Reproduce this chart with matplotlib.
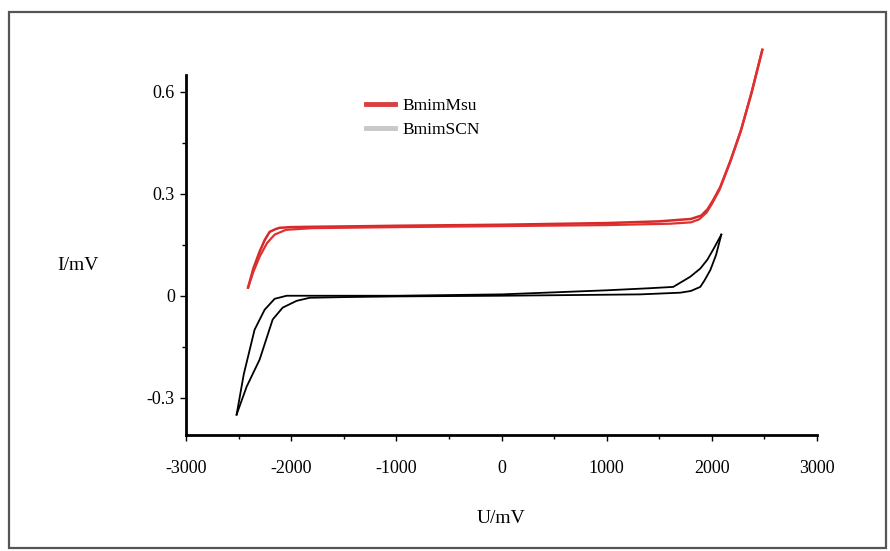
import matplotlib
matplotlib.use("Agg")
import matplotlib.pyplot as plt
from matplotlib.lines import Line2D
from matplotlib.patches import Rectangle
from matplotlib.ticker import MultipleLocator

plt.rcParams['font.family'] = ['Liberation Serif', 'DejaVu Serif']

# BmimMsu (red) - forward sweep then return sweep
msu_u_fwd = [-2410, -2360, -2300, -2250, -2205, -2150, -2110, -2000, -1800, -1500, -1000, 0, 1000, 1500, 1800, 1900, 1960, 2010, 2080, 2180, 2280, 2380, 2480]
msu_i_fwd = [0.024, 0.08, 0.13, 0.165, 0.188, 0.196, 0.200, 0.202, 0.203, 0.204, 0.206, 0.209, 0.214, 0.219, 0.226, 0.236, 0.255, 0.28, 0.32, 0.40, 0.49, 0.60, 0.724]
msu_u_ret = [2480, 2370, 2270, 2170, 2070, 2000, 1950, 1880, 1800, 1600, 1000, 0, -1000, -1800, -2050, -2157, -2230, -2300, -2360, -2410]
msu_i_ret = [0.724, 0.59, 0.48, 0.39, 0.31, 0.27, 0.245, 0.225, 0.216, 0.212, 0.208, 0.205, 0.202, 0.199, 0.194, 0.180, 0.155, 0.115, 0.07, 0.024]

# BmimSCN (black)
scn_u_fwd = [-2519, -2450, -2348, -2252, -2157, -2043, -1500, -1000, 0, 1000, 1400, 1633, 1795, 1890, 1957, 2020, 2090]
scn_i_fwd = [-0.35, -0.23, -0.10, -0.041, -0.009, 0.0, 0.0, 0.0, 0.004, 0.016, 0.022, 0.026, 0.056, 0.08, 0.106, 0.14, 0.18]
scn_u_ret = [2090, 2040, 1986, 1930, 1890, 1800, 1700, 1319, 1000, 0, -1000, -1500, -1824, -1948, -2081, -2176, -2300, -2424, -2519]
scn_i_ret = [0.18, 0.12, 0.076, 0.045, 0.026, 0.014, 0.009, 0.004, 0.003, 0.0, -0.002, -0.004, -0.006, -0.015, -0.035, -0.07, -0.188, -0.268, -0.35]

x_ticks = [-3000, -2000, -1000, 0, 1000, 2000, 3000]
y_ticks = [-0.3, 0, 0.3, 0.6]
y_tick_labels = ["-0.3", "0", "0.3", "0.6"]

fig = plt.figure(figsize=(8.9, 5.51), dpi=100)
ax = fig.add_axes([0.209, 0.2105, 0.709, 0.6535])

fig.patches.append(Rectangle((9/890, 3/551), 877/890, 536/551, transform=fig.transFigure,
                             fill=False, edgecolor="#555555", lw=1.6))

ax.plot(msu_u_fwd, msu_i_fwd, color="#d42a2a", lw=1.8, clip_on=False)
ax.plot(msu_u_ret, msu_i_ret, color="#e03030", lw=1.6, clip_on=False)
ax.plot(scn_u_fwd, scn_i_fwd, color="black", lw=1.3)
ax.plot(scn_u_ret, scn_i_ret, color="black", lw=1.3)

ax.set_xlim(-3000, 3000)
ax.set_ylim(-0.41, 0.65)
ax.set_xticks(x_ticks)
ax.set_xticklabels([str(v) for v in x_ticks])
ax.set_yticks(y_ticks)
ax.set_yticklabels(y_tick_labels)
ax.xaxis.set_minor_locator(MultipleLocator(500))
ax.yaxis.set_minor_locator(MultipleLocator(0.15))
ax.tick_params(which="both", direction="out", labelsize=13, width=1)
ax.tick_params(which="major", length=4)
ax.tick_params(which="minor", length=3)
ax.tick_params(axis="x", pad=14)
ax.tick_params(axis="y", pad=4)

for s in ["top", "right"]:
    ax.spines[s].set_visible(False)
for s in ["left", "bottom"]:
    ax.spines[s].set_linewidth(2)

ax.set_xlabel("U/mV", fontsize=14, labelpad=24)
fig.text(78/890, 1 - 265/551, "I/mV", fontsize=14, ha="center", va="center")

handles = [Line2D([], [], color="#d9403f", lw=3.5), Line2D([], [], color="#c8c8c8", lw=3.5)]
ax.legend(handles, ["BmimMsu", "BmimSCN"], loc="upper left", bbox_to_anchor=(0.26, 0.98),
          frameon=False, fontsize=12.5, handlelength=1.7, handletextpad=0.4, labelspacing=0.45)

fig.savefig("out.png", dpi=100)
